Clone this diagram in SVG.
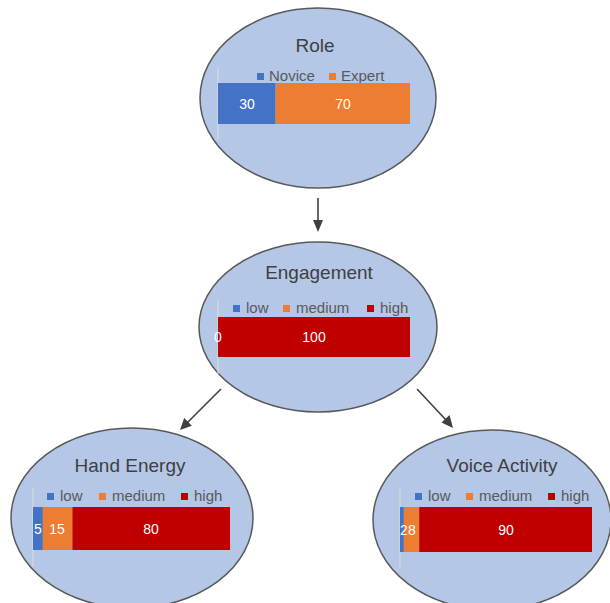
<svg xmlns="http://www.w3.org/2000/svg" width="610" height="603" viewBox="0 0 610 603">
  <style>
    .node { fill: #b4c7e7; stroke: #595959; stroke-width: 1.5; }
    .title { font-family: "Liberation Sans", Arial, sans-serif; font-size: 19px; fill: #404040; text-anchor: middle; }
    .legend { font-family: "Liberation Sans", Arial, sans-serif; font-size: 15px; fill: #595959; }
    .val { font-family: "Liberation Sans", Arial, sans-serif; font-size: 14px; fill: #ffffff; text-anchor: middle; }
    .axis { stroke: #d9d9d9; stroke-width: 1.2; }
    .blue { fill: #4472c4; }
    .orange { fill: #ed7d31; }
    .red { fill: #c00000; }
    .edge { stroke: #404040; stroke-width: 1.6; fill: none; }
    .head { fill: #404040; }
  </style>
  <rect width="610" height="603" fill="#ffffff"/>

  <!-- connectors -->
  <g id="connectors">
    <line class="edge" x1="318" y1="198" x2="318" y2="222"/>
    <path class="head" d="M313,220 L318,232 L323,220 z"/>
    <line class="edge" x1="221" y1="389" x2="187" y2="423"/>
    <path class="head" d="M180,430 L184.2,418 L191.9,425.7 z"/>
    <line class="edge" x1="417" y1="389" x2="446" y2="420"/>
    <path class="head" d="M453,428 L441.5,422.4 L449.5,415.0 z"/>
  </g>

  <!-- Role -->
  <g id="role">
    <ellipse class="node" cx="318" cy="98" rx="118" ry="90"/>
    <text class="title" x="315" y="52">Role</text>
    <line class="axis" x1="218" y1="67" x2="218" y2="140"/>
    <rect class="blue" x="257" y="73" width="7" height="7"/>
    <text class="legend" x="269" y="81">Novice</text>
    <rect class="orange" x="329" y="73" width="7" height="7"/>
    <text class="legend" x="341" y="81">Expert</text>
    <rect class="blue" x="218" y="83" width="57.6" height="41"/>
    <rect class="orange" x="275.6" y="83" width="134.4" height="41"/>
    <text class="val" x="247" y="109">30</text>
    <text class="val" x="343" y="109">70</text>
  </g>

  <!-- Engagement -->
  <g id="engagement">
    <ellipse class="node" cx="318" cy="327" rx="119" ry="85"/>
    <text class="title" x="319" y="279">Engagement</text>
    <line class="axis" x1="218" y1="300" x2="218" y2="374"/>
    <rect class="blue" x="233" y="305" width="7" height="7"/>
    <text class="legend" x="246" y="313">low</text>
    <rect class="orange" x="283" y="305" width="7" height="7"/>
    <text class="legend" x="296" y="313">medium</text>
    <rect class="red" x="367" y="305" width="7" height="7"/>
    <text class="legend" x="380" y="313">high</text>
    <rect class="red" x="218" y="317" width="192" height="40"/>
    <text class="val" x="218" y="342">0</text>
    <text class="val" x="314" y="342">100</text>
  </g>

  <!-- Hand Energy -->
  <g id="hand-energy">
    <ellipse class="node" cx="132" cy="518" rx="121" ry="90"/>
    <text class="title" x="130" y="472">Hand Energy</text>
    <line class="axis" x1="33" y1="488" x2="33" y2="567"/>
    <rect class="blue" x="47" y="493" width="7" height="7"/>
    <text class="legend" x="60" y="501">low</text>
    <rect class="orange" x="99" y="493" width="7" height="7"/>
    <text class="legend" x="112" y="501">medium</text>
    <rect class="red" x="181" y="493" width="7" height="7"/>
    <text class="legend" x="194" y="501">high</text>
    <rect class="blue" x="33" y="507" width="9.85" height="43"/>
    <rect class="orange" x="42.85" y="507" width="29.55" height="43"/>
    <rect class="red" x="72.4" y="507" width="157.6" height="43"/>
    <text class="val" x="38" y="534">5</text>
    <text class="val" x="57" y="534">15</text>
    <text class="val" x="151" y="534">80</text>
  </g>

  <!-- Voice Activity -->
  <g id="voice-activity">
    <ellipse class="node" cx="492" cy="520" rx="119" ry="90"/>
    <text class="title" x="502" y="472">Voice Activity</text>
    <line class="axis" x1="400" y1="488" x2="400" y2="568"/>
    <rect class="blue" x="415" y="493" width="7" height="7"/>
    <text class="legend" x="428" y="501">low</text>
    <rect class="orange" x="466" y="493" width="7" height="7"/>
    <text class="legend" x="479" y="501">medium</text>
    <rect class="red" x="548" y="493" width="7" height="7"/>
    <text class="legend" x="561" y="501">high</text>
    <rect class="blue" x="400" y="507" width="3.84" height="45"/>
    <rect class="orange" x="403.84" y="507" width="15.36" height="45"/>
    <rect class="red" x="419.2" y="507" width="172.8" height="45"/>
    <text class="val" x="404" y="535">2</text>
    <text class="val" x="412" y="535">8</text>
    <text class="val" x="506" y="535">90</text>
  </g>
</svg>
